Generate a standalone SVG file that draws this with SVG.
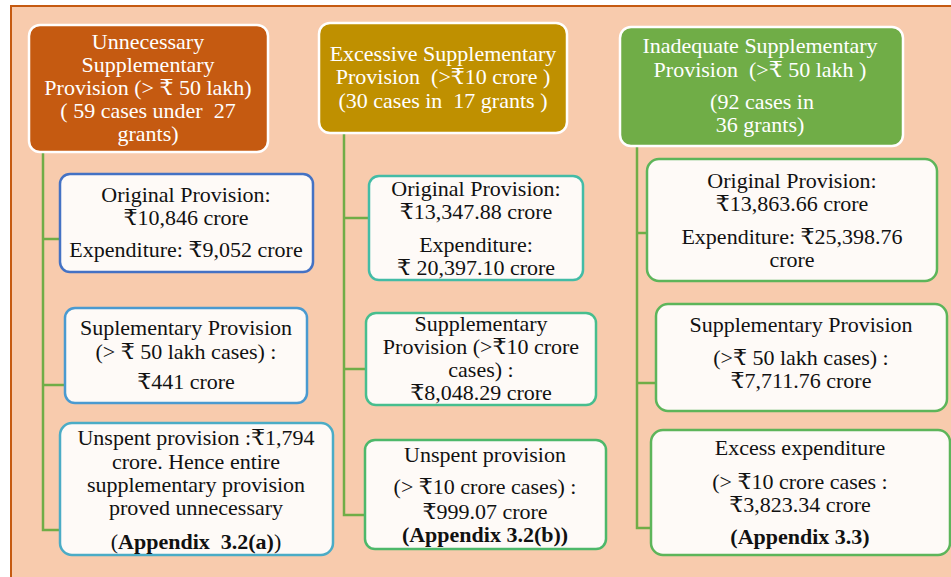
<svg xmlns="http://www.w3.org/2000/svg" width="951" height="577" viewBox="0 0 951 577">
<style>
text{font-family:"Liberation Serif","DejaVu Serif",serif;font-size:22px;text-anchor:middle;fill:#111}
.hd text{fill:#fff}
.hd rect{stroke:#fff;stroke-width:2.5}
.bx rect{fill:#FEFAF7;stroke-width:2.5}
.b{font-weight:bold}
.con{fill:none;stroke:#70AD47;stroke-width:2.5}
</style>
<rect x="0" y="0" width="951" height="577" fill="#fff"/>
<rect x="11" y="6" width="960" height="600" fill="#F8CBAD" stroke="#C55A11" stroke-width="2"/>

<g id="connectors" class="con">
<path d="M43 152V530H62M43 239H62M43 385H67"/>
<path d="M344 133V515H367M344 218H371M344 369H368"/>
<path d="M637 146V528H653M637 233H649M637 383H658"/>
</g>

<g id="h1" class="hd">
<rect x="29" y="25" width="239" height="127" rx="11" fill="#C55A11"/>
<text x="148" y="49">Unnecessary</text>
<text x="148" y="72">Supplementary</text>
<text x="148" y="95">Provision (&gt; ₹ 50 lakh)</text>
<text x="148" y="118" xml:space="preserve">( 59 cases under  27</text>
<text x="148" y="141">grants)</text>
</g>

<g id="h2" class="hd">
<rect x="319" y="23" width="248" height="110" rx="11" fill="#BF9000"/>
<text x="443" y="61">Excessive Supplementary</text>
<text x="443" y="84" xml:space="preserve">Provision  (&gt;₹10 crore )</text>
<text x="443" y="108" xml:space="preserve">(30 cases in  17 grants )</text>
</g>

<g id="h3" class="hd">
<rect x="620" y="27" width="283" height="119" rx="11" fill="#70AD47"/>
<text x="760" y="53">Inadequate Supplementary</text>
<text x="760" y="77" xml:space="preserve">Provision  (&gt;₹ 50 lakh )</text>
<text x="762" y="109">(92 cases in</text>
<text x="760" y="132">36 grants)</text>
</g>

<g id="b1a" class="bx">
<rect x="60" y="174" width="253" height="98" rx="10" stroke="#4472C4"/>
<text x="186" y="202">Original Provision:</text>
<text x="186" y="225">₹10,846 crore</text>
<text x="186" y="257">Expenditure: ₹9,052 crore</text>
</g>

<g id="b1b" class="bx">
<rect x="65" y="308" width="242" height="95" rx="10" stroke="#4A9AD0"/>
<text x="186" y="335">Suplementary Provision</text>
<text x="186" y="359">(&gt; ₹ 50 lakh cases) :</text>
<text x="186" y="389">₹441 crore</text>
</g>

<g id="b1c" class="bx">
<rect x="60" y="423" width="273" height="132" rx="12" stroke="#4BACC6"/>
<text x="196" y="445">Unspent provision :₹1,794</text>
<text x="196" y="469">crore. Hence entire</text>
<text x="196" y="492">supplementary provision</text>
<text x="196" y="515">proved unnecessary</text>
<text x="196" y="549" xml:space="preserve">(<tspan class="b">Appendix  3.2(a)</tspan>)</text>
</g>

<g id="b2a" class="bx">
<rect x="369" y="176" width="214" height="104" rx="10" stroke="#43BCA6"/>
<text x="476" y="196">Original Provision:</text>
<text x="476" y="219">₹13,347.88 crore</text>
<text x="476" y="252">Expenditure:</text>
<text x="476" y="275">₹ 20,397.10 crore</text>
</g>

<g id="b2b" class="bx">
<rect x="366" y="313" width="230" height="92" rx="10" stroke="#47BE8E"/>
<text x="481" y="331">Supplementary</text>
<text x="481" y="354">Provision (&gt;₹10 crore</text>
<text x="481" y="377">cases) :</text>
<text x="481" y="400">₹8,048.29 crore</text>
</g>

<g id="b2c" class="bx">
<rect x="365" y="440" width="241" height="109" rx="10" stroke="#4DB86A"/>
<text x="485" y="462">Unspent provision</text>
<text x="485" y="494">(&gt; ₹10 crore cases) :</text>
<text x="485" y="519">₹999.07 crore</text>
<text x="485" y="542" class="b">(Appendix 3.2(b))</text>
</g>

<g id="b3a" class="bx">
<rect x="647" y="159" width="290" height="122" rx="12" stroke="#5DB55A"/>
<text x="792" y="188">Original Provision:</text>
<text x="792" y="211">₹13,863.66 crore</text>
<text x="792" y="244">Expenditure: ₹25,398.76</text>
<text x="792" y="267">crore</text>
</g>

<g id="b3b" class="bx">
<rect x="656" y="304" width="291" height="107" rx="12" stroke="#5DB55A"/>
<text x="801" y="332">Supplementary Provision</text>
<text x="801" y="365">(&gt;₹ 50 lakh cases) :</text>
<text x="801" y="388">₹7,711.76 crore</text>
</g>

<g id="b3c" class="bx">
<rect x="651" y="430" width="299" height="125" rx="12" stroke="#5DB55A"/>
<text x="800" y="455">Excess expenditure</text>
<text x="800" y="489">(&gt; ₹10 crore cases :</text>
<text x="800" y="512">₹3,823.34 crore</text>
<text x="800" y="544" class="b">(Appendix 3.3)</text>
</g>
</svg>
